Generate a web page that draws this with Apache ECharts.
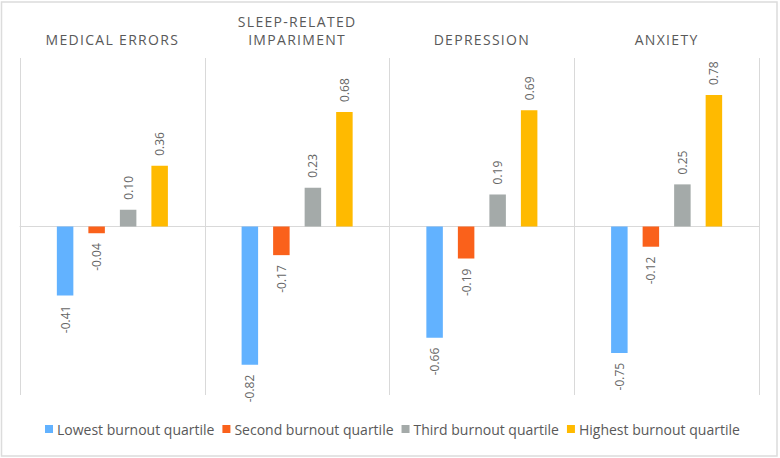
<!DOCTYPE html>
<html>
<head>
<meta charset="utf-8">
<script src="https://cdn.jsdelivr.net/npm/echarts@6/dist/echarts.min.js"></script>
<style>
html,body{margin:0;padding:0;background:#fff;}
#chart{width:780px;height:458px;}
#chart svg text[style*="sans-serif"]{letter-spacing:1.3px;}
</style>
</head>
<body>
<div id="chart"></div>
<script>
const categories = ['MEDICAL ERRORS', 'SLEEP-RELATED\nIMPARIMENT', 'DEPRESSION', 'ANXIETY'];
const seriesNames = ['Lowest burnout quartile', 'Second burnout quartile', 'Third burnout quartile', 'Highest burnout quartile'];
const lowest = [-0.41, -0.82, -0.66, -0.75];
const second = [-0.04, -0.17, -0.19, -0.12];
const third = [0.10, 0.23, 0.19, 0.25];
const highest = [0.36, 0.68, 0.69, 0.78];

const colors = ['#62B2FF', '#FA611B', '#A4AAA9', '#FFBA00'];
const FONT = 'Open Sans';
const TITLE_FONT = 'Open Sans, sans-serif';
const TEXT = '#595959';

function toData(arr) {
  return arr.map(v => ({
    value: v,
    label: v >= 0
      ? { position: 'top', align: 'left', verticalAlign: 'middle' }
      : { position: 'bottom', align: 'right', verticalAlign: 'middle' }
  }));
}

const allValues = [lowest, second, third, highest];
const series = allValues.map((arr, i) => ({
  name: seriesNames[i],
  type: 'bar',
  xAxisIndex: 0,
  yAxisIndex: 0,
  barWidth: 16.5,
  barGap: '91%',
  itemStyle: { color: colors[i] },
  label: {
    show: true,
    rotate: 90,
    distance: 10,
    fontFamily: FONT,
    fontSize: 12,
    color: '#666666',
    formatter: p => p.value.toFixed(2)
  },
  data: toData(arr)
}));

const chart = echarts.init(document.getElementById('chart'), null, { renderer: 'svg' });
chart.setOption({
  animation: false,
  backgroundColor: '#ffffff',
  color: colors,
  grid: { left: 20, right: 21, top: 58, bottom: 63, containLabel: false },
  legend: {
    bottom: 17,
    left: 40,
    itemWidth: 8,
    itemHeight: 8,
    itemGap: 8,
    icon: 'rect',
    textStyle: { fontFamily: FONT, fontSize: 14, color: TEXT, padding: [0, 0, 0, -1] },
    data: seriesNames
  },
  graphic: [{
    type: 'rect',
    silent: true,
    z: -1,
    shape: { x: 1.5, y: 2, width: 775.5, height: 454 },
    style: { fill: 'none', stroke: '#dcdcdc', lineWidth: 1.5 }
  }],
  xAxis: [{
    type: 'category',
    data: categories,
    position: 'bottom',
    axisLine: { show: true, onZero: true, lineStyle: { color: '#d9d9d9', width: 1 } },
    axisTick: { show: false },
    axisLabel: { show: false },
    splitLine: { show: true, interval: 0, lineStyle: { color: '#d9d9d9', width: 1 } }
  }, {
    type: 'category',
    data: categories,
    position: 'top',
    axisLine: { show: false },
    axisTick: { show: false },
    splitLine: { show: false },
    axisLabel: {
      interval: 0,
      margin: 10,
      fontFamily: TITLE_FONT,
      fontSize: 14,
      lineHeight: 18,
      color: TEXT
    }
  }],
  yAxis: {
    type: 'value',
    min: -1,
    max: 1,
    interval: 1,
    show: false,
    splitLine: { show: false }
  },
  series: series
});
</script>
</body>
</html>
